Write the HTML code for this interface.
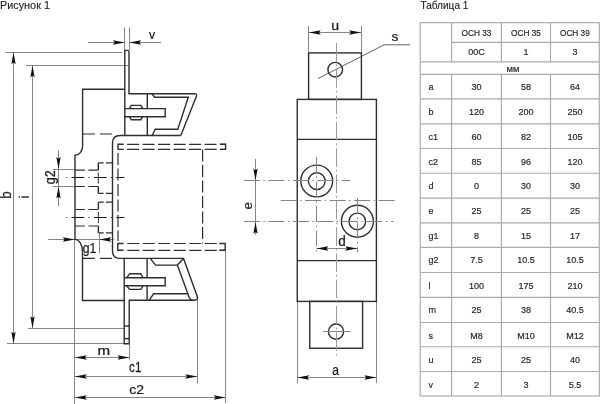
<!DOCTYPE html>
<html><head><meta charset="utf-8"><style>
html,body{margin:0;padding:0;background:#fff;width:600px;height:404px;overflow:hidden}
svg{display:block;will-change:transform;font-family:"Liberation Sans",sans-serif;fill:#222}
</style></head><body>
<svg width="600" height="404" viewBox="0 0 600 404">
<g id="draw">
<line x1="124.5" y1="27.4" x2="124.5" y2="50" stroke="#858585" stroke-width="1" fill="none"/>
<line x1="129.5" y1="27.4" x2="129.5" y2="50" stroke="#858585" stroke-width="1" fill="none"/>
<line x1="88.2" y1="42.5" x2="124.9" y2="42.5" stroke="#858585" stroke-width="1" fill="none"/>
<line x1="129.2" y1="42.5" x2="161" y2="42.5" stroke="#858585" stroke-width="1" fill="none"/>
<path d="M124.90,42.50 L112.90,44.65 L114.70,42.50 L112.90,40.35Z" fill="#111"/>
<path d="M129.20,42.50 L141.20,40.35 L139.40,42.50 L141.20,44.65Z" fill="#111"/>
<line x1="5.5" y1="52.5" x2="122.4" y2="52.5" stroke="#858585" stroke-width="1" fill="none"/>
<line x1="7" y1="343.5" x2="124.2" y2="343.5" stroke="#858585" stroke-width="1" fill="none"/>
<line x1="13.5" y1="52.3" x2="13.5" y2="343.8" stroke="#858585" stroke-width="1" fill="none"/>
<path d="M13.50,52.30 L15.65,64.30 L13.50,62.50 L11.35,64.30Z" fill="#111"/>
<path d="M13.50,343.80 L11.35,331.80 L13.50,333.60 L15.65,331.80Z" fill="#111"/>
<line x1="26" y1="65.5" x2="128.8" y2="65.5" stroke="#858585" stroke-width="1" fill="none"/>
<line x1="27.9" y1="328.5" x2="124.2" y2="328.5" stroke="#858585" stroke-width="1" fill="none"/>
<line x1="32.5" y1="65.4" x2="32.5" y2="328.2" stroke="#858585" stroke-width="1" fill="none"/>
<path d="M32.50,65.40 L34.65,77.40 L32.50,75.60 L30.35,77.40Z" fill="#111"/>
<path d="M32.50,328.20 L30.35,316.20 L32.50,318.00 L34.65,316.20Z" fill="#111"/>
<line x1="58.5" y1="150.2" x2="58.5" y2="206" stroke="#858585" stroke-width="1" fill="none"/>
<path d="M58.50,169.00 L56.35,157.00 L58.50,158.80 L60.65,157.00Z" fill="#111"/>
<path d="M58.50,186.50 L60.65,198.50 L58.50,196.70 L56.35,198.50Z" fill="#111"/>
<line x1="52.8" y1="169.5" x2="75" y2="169.5" stroke="#858585" stroke-width="1" fill="none"/>
<line x1="52.8" y1="186.5" x2="75" y2="186.5" stroke="#858585" stroke-width="1" fill="none"/>
<line x1="48.2" y1="239.5" x2="114.2" y2="239.5" stroke="#858585" stroke-width="1" fill="none"/>
<path d="M74.80,239.50 L62.80,241.65 L64.60,239.50 L62.80,237.35Z" fill="#111"/>
<path d="M99.20,239.50 L111.20,237.35 L109.40,239.50 L111.20,241.65Z" fill="#111"/>
<line x1="99.5" y1="233" x2="99.5" y2="253.2" stroke="#858585" stroke-width="1" fill="none"/>
<line x1="74.5" y1="239.5" x2="74.5" y2="404" stroke="#858585" stroke-width="1" fill="none"/>
<line x1="129.5" y1="344" x2="129.5" y2="360.2" stroke="#858585" stroke-width="1" fill="none"/>
<line x1="197.5" y1="300" x2="197.5" y2="383.4" stroke="#858585" stroke-width="1" fill="none"/>
<line x1="225.5" y1="250" x2="225.5" y2="403" stroke="#858585" stroke-width="1" fill="none"/>
<line x1="74.8" y1="357.5" x2="129.5" y2="357.5" stroke="#858585" stroke-width="1" fill="none"/>
<path d="M74.80,357.50 L86.80,355.35 L85.00,357.50 L86.80,359.65Z" fill="#111"/>
<path d="M129.50,357.50 L117.50,359.65 L119.30,357.50 L117.50,355.35Z" fill="#111"/>
<line x1="74.8" y1="376.5" x2="197.3" y2="376.5" stroke="#858585" stroke-width="1" fill="none"/>
<path d="M74.80,376.50 L86.80,374.35 L85.00,376.50 L86.80,378.65Z" fill="#111"/>
<path d="M197.30,376.50 L185.30,378.65 L187.10,376.50 L185.30,374.35Z" fill="#111"/>
<line x1="74.8" y1="397.5" x2="225.8" y2="397.5" stroke="#858585" stroke-width="1" fill="none"/>
<path d="M74.80,397.50 L86.80,395.35 L85.00,397.50 L86.80,399.65Z" fill="#111"/>
<path d="M225.80,397.50 L213.80,399.65 L215.60,397.50 L213.80,395.35Z" fill="#111"/>
<line x1="66.3" y1="177.5" x2="124.5" y2="177.5" stroke="#1a1a1a" stroke-width="1" fill="none" stroke-dasharray="1 4.4 12.6 4.4"/>
<line x1="66.3" y1="217.5" x2="124.5" y2="217.5" stroke="#1a1a1a" stroke-width="1" fill="none" stroke-dasharray="1 4.4 12.6 4.4"/>
<path d="M124.8,135.5 V50.4 H127.5 Q129,50.4 129,52 V93.8 H194.4 Q197,93.8 196.5,96 L180.8,135.6" stroke="#2e2e2e" stroke-width="1.4" fill="none"/>
<path d="M180.8,135.5 H120 Q112.5,135.5 112.5,143 V251 Q112.5,258.4 120,258.4 H183.5 L197.1,296 Q198.4,300.2 194.5,300.2 H129.2 V343.8 H124.2 V258.4" stroke="#2e2e2e" stroke-width="1.4" fill="none"/>
<line x1="124.2" y1="326" x2="129.2" y2="326" stroke="#2e2e2e" stroke-width="1.4" fill="none"/>
<line x1="124.2" y1="338.6" x2="129.2" y2="338.6" stroke="#2e2e2e" stroke-width="1.4" fill="none"/>
<line x1="147.3" y1="93.8" x2="147.3" y2="108.6" stroke="#2e2e2e" stroke-width="1.4" fill="none"/>
<line x1="147.3" y1="116.7" x2="147.3" y2="135.5" stroke="#2e2e2e" stroke-width="1.4" fill="none"/>
<line x1="147.1" y1="258.4" x2="147.1" y2="277.8" stroke="#2e2e2e" stroke-width="1.4" fill="none"/>
<line x1="147.1" y1="285.8" x2="147.1" y2="300.2" stroke="#2e2e2e" stroke-width="1.4" fill="none"/>
<polyline points="152,93.8 154.7,97.2 188.3,97.2 177.8,129.2 155.2,129.2 152.2,135.5" stroke="#2e2e2e" stroke-width="1.4" fill="none"/>
<polyline points="150.2,258.4 155.6,265.1 177.4,265.1 183.5,258.6" stroke="#2e2e2e" stroke-width="1.4" fill="none"/>
<path d="M177.4,265.1 L189.2,297.6 Q190.3,300.2 193,300.2" stroke="#2e2e2e" stroke-width="1.4" fill="none"/>
<polyline points="187.7,293.8 153.6,293.8 149.3,300.2" stroke="#2e2e2e" stroke-width="1.4" fill="none"/>
<polyline points="124.8,108.6 165.2,108.6 165.2,116.7 124.8,116.7" stroke="#2e2e2e" stroke-width="1.4" fill="none"/>
<polyline points="129.4,108.6 131.2,105.4 140.9,105.4 142.7,108.6" stroke="#2e2e2e" stroke-width="1.4" fill="none"/>
<polyline points="129.4,116.7 131.2,119.8 140.9,119.8 142.7,116.7" stroke="#2e2e2e" stroke-width="1.4" fill="none"/>
<polyline points="124.2,277.8 165.2,277.8 165.2,285.8 124.2,285.8" stroke="#2e2e2e" stroke-width="1.4" fill="none"/>
<polyline points="126.7,277.8 129.7,273.7 140.7,273.7 143.1,277.8" stroke="#2e2e2e" stroke-width="1.4" fill="none"/>
<polyline points="126.7,285.8 129.6,289.4 140.9,289.4 143.1,285.8" stroke="#2e2e2e" stroke-width="1.4" fill="none"/>
<path d="M124.8,89.2 H82.6 V146 A7.6,9.3 0 0 1 75,155.3 V239.4 A7.5,12 0 0 1 82.5,251.4 V300.5 H124.2" stroke="#2e2e2e" stroke-width="1.4" fill="none"/>
<line x1="82.6" y1="134" x2="112" y2="134" stroke="#2e2e2e" stroke-width="1.2" fill="none" stroke-dasharray="12.4 5"/>
<line x1="82.5" y1="258.3" x2="112" y2="258.3" stroke="#2e2e2e" stroke-width="1.2" fill="none" stroke-dasharray="12.4 5"/>
<path d="M123.8,144.3 H118 V149.4 H123.8" stroke="#2e2e2e" stroke-width="1.4" fill="none"/>
<line x1="127.1" y1="144.3" x2="225.5" y2="144.3" stroke="#2e2e2e" stroke-width="1.2" fill="none" stroke-dasharray="12 3.5"/>
<line x1="127.1" y1="149.4" x2="225.5" y2="149.4" stroke="#2e2e2e" stroke-width="1.2" fill="none" stroke-dasharray="12 3.5"/>
<path d="M219.8,144.3 H225.6 V149.4 H219.8" stroke="#2e2e2e" stroke-width="1.4" fill="none"/>
<line x1="118" y1="153.1" x2="118" y2="240.9" stroke="#2e2e2e" stroke-width="1.2" fill="none" stroke-dasharray="12 3.5"/>
<path d="M123.6,243.5 H117.8 V250.3 H123.6" stroke="#2e2e2e" stroke-width="1.4" fill="none"/>
<line x1="127.3" y1="243.5" x2="225" y2="243.5" stroke="#2e2e2e" stroke-width="1.2" fill="none" stroke-dasharray="12 3.5"/>
<line x1="127.3" y1="250.3" x2="225" y2="250.3" stroke="#2e2e2e" stroke-width="1.2" fill="none" stroke-dasharray="12 3.5"/>
<path d="M219.3,243.5 H225.2 V250.3 H219.3" stroke="#2e2e2e" stroke-width="1.4" fill="none"/>
<line x1="202.6" y1="149.4" x2="202.6" y2="243.5" stroke="#2e2e2e" stroke-width="1.2" fill="none" stroke-dasharray="12 3.5"/>
<line x1="98.3" y1="162.9" x2="112.5" y2="162.9" stroke="#2e2e2e" stroke-width="1.2" fill="none" stroke-dasharray="5.3 2.2 20"/>
<line x1="98.3" y1="162.9" x2="98.3" y2="170.2" stroke="#2e2e2e" stroke-width="1.4" fill="none"/>
<line x1="75" y1="170.2" x2="98.3" y2="170.2" stroke="#2e2e2e" stroke-width="1.2" fill="none" stroke-dasharray="9.8 3.6 20"/>
<line x1="75" y1="186.5" x2="98.3" y2="186.5" stroke="#2e2e2e" stroke-width="1.2" fill="none" stroke-dasharray="9.8 3.6 20"/>
<line x1="98.3" y1="186.5" x2="98.3" y2="193.3" stroke="#2e2e2e" stroke-width="1.4" fill="none"/>
<line x1="98.3" y1="193.3" x2="112.5" y2="193.3" stroke="#2e2e2e" stroke-width="1.2" fill="none" stroke-dasharray="5.3 2.2 20"/>
<line x1="98.3" y1="172.5" x2="98.3" y2="183.6" stroke="#2e2e2e" stroke-width="1" fill="none"/>
<line x1="116.3" y1="177.5" x2="120.3" y2="177.5" stroke="#2e2e2e" stroke-width="1" fill="none"/>
<line x1="98.4" y1="202.2" x2="112.5" y2="202.2" stroke="#2e2e2e" stroke-width="1.2" fill="none" stroke-dasharray="5.3 2.2 20"/>
<line x1="98.4" y1="202.2" x2="98.4" y2="209.5" stroke="#2e2e2e" stroke-width="1.4" fill="none"/>
<line x1="75" y1="209.5" x2="98.4" y2="209.5" stroke="#2e2e2e" stroke-width="1.2" fill="none" stroke-dasharray="9.8 3.6 20"/>
<line x1="75" y1="226" x2="98.4" y2="226" stroke="#2e2e2e" stroke-width="1.2" fill="none" stroke-dasharray="9.8 3.6 20"/>
<line x1="98.4" y1="226" x2="98.4" y2="232.9" stroke="#2e2e2e" stroke-width="1.4" fill="none"/>
<line x1="98.4" y1="232.9" x2="112.5" y2="232.9" stroke="#2e2e2e" stroke-width="1.2" fill="none" stroke-dasharray="5.3 2.2 20"/>
<line x1="98.4" y1="211.8" x2="98.4" y2="223.1" stroke="#2e2e2e" stroke-width="1" fill="none"/>
<line x1="116.3" y1="217.6" x2="120.3" y2="217.6" stroke="#2e2e2e" stroke-width="1" fill="none"/>
<rect x="308.6" y="52.9" width="52.8" height="46.5" stroke="#2e2e2e" stroke-width="1.4" fill="none"/>
<rect x="297.25" y="99.4" width="79.15" height="202" stroke="#2e2e2e" stroke-width="1.4" fill="none"/>
<line x1="297.25" y1="139.4" x2="376.4" y2="139.4" stroke="#2e2e2e" stroke-width="1.4" fill="none"/>
<line x1="297.25" y1="260.6" x2="376.4" y2="260.6" stroke="#2e2e2e" stroke-width="1.4" fill="none"/>
<rect x="309.75" y="301.4" width="52.85" height="46.85" stroke="#2e2e2e" stroke-width="1.4" fill="none"/>
<circle cx="335.2" cy="69.7" r="7.3" stroke="#2e2e2e" stroke-width="1.4" fill="none"/>
<circle cx="336" cy="331.6" r="7.6" stroke="#2e2e2e" stroke-width="1.4" fill="none"/>
<circle cx="316.7" cy="181" r="15.9" stroke="#2e2e2e" stroke-width="1.4" fill="none"/>
<circle cx="316.8" cy="181.1" r="8.4" stroke="#2e2e2e" stroke-width="1.4" fill="none"/>
<circle cx="357.4" cy="221.3" r="16" stroke="#2e2e2e" stroke-width="1.4" fill="none"/>
<circle cx="357.3" cy="221.4" r="8.3" stroke="#2e2e2e" stroke-width="1.4" fill="none"/>
<line x1="336.5" y1="43" x2="336.5" y2="358" stroke="#9a9a9a" stroke-width="1" fill="none" stroke-dasharray="18.5 3 1.8 3"/>
<line x1="243.9" y1="180.5" x2="350" y2="180.5" stroke="#858585" stroke-width="1" fill="none" stroke-dasharray="16 3.5 1.5 3.5"/>
<line x1="280.7" y1="200.5" x2="394.6" y2="200.5" stroke="#858585" stroke-width="1" fill="none" stroke-dasharray="16 3.5 1.5 3.5"/>
<line x1="243.9" y1="221.5" x2="393.5" y2="221.5" stroke="#858585" stroke-width="1" fill="none" stroke-dasharray="16 3.5 1.5 3.5"/>
<line x1="316.5" y1="157" x2="316.5" y2="252.3" stroke="#858585" stroke-width="1" fill="none" stroke-dasharray="16 3.5 1.5 3.5"/>
<line x1="357.5" y1="198" x2="357.5" y2="252.3" stroke="#858585" stroke-width="1" fill="none" stroke-dasharray="16 3.5 1.5 3.5"/>
<line x1="323" y1="331.5" x2="350.4" y2="331.5" stroke="#858585" stroke-width="1" fill="none"/>
<line x1="308.5" y1="25.8" x2="308.5" y2="52" stroke="#858585" stroke-width="1" fill="none"/>
<line x1="361.5" y1="25.8" x2="361.5" y2="52" stroke="#858585" stroke-width="1" fill="none"/>
<line x1="308.8" y1="32.5" x2="361.1" y2="32.5" stroke="#858585" stroke-width="1" fill="none"/>
<path d="M308.80,32.50 L320.80,30.35 L319.00,32.50 L320.80,34.65Z" fill="#111"/>
<path d="M361.10,32.50 L349.10,34.65 L350.90,32.50 L349.10,30.35Z" fill="#111"/>
<polyline points="318,78.6 384.2,44.8 410.2,44.8" stroke="#505050" stroke-width="0.9" fill="none"/>
<line x1="255.5" y1="158.9" x2="255.5" y2="234.7" stroke="#858585" stroke-width="1" fill="none"/>
<path d="M255.50,180.50 L253.35,168.50 L255.50,170.30 L257.65,168.50Z" fill="#111"/>
<path d="M255.50,221.70 L257.65,233.70 L255.50,231.90 L253.35,233.70Z" fill="#111"/>
<line x1="316.4" y1="248.5" x2="357.3" y2="248.5" stroke="#858585" stroke-width="1" fill="none"/>
<path d="M316.40,248.50 L328.40,246.35 L326.60,248.50 L328.40,250.65Z" fill="#111"/>
<path d="M357.30,248.50 L345.30,250.65 L347.10,248.50 L345.30,246.35Z" fill="#111"/>
<line x1="297.5" y1="302" x2="297.5" y2="383" stroke="#858585" stroke-width="1" fill="none"/>
<line x1="376.5" y1="302" x2="376.5" y2="383" stroke="#858585" stroke-width="1" fill="none"/>
<line x1="297.2" y1="377.5" x2="376.4" y2="377.5" stroke="#858585" stroke-width="1" fill="none"/>
<path d="M297.20,377.50 L309.20,375.35 L307.40,377.50 L309.20,379.65Z" fill="#111"/>
<path d="M376.40,377.50 L364.40,379.65 L366.20,377.50 L364.40,375.35Z" fill="#111"/>
</g>
<g id="table" fill="#2a2a2a" stroke="#2a2a2a" stroke-width="0.2">
<rect x="420.2" y="22.7" width="179.1" height="373.3" stroke="#aaaaaa" stroke-width="1.15" fill="none"/>
<line x1="451.6" y1="42.3" x2="599.3" y2="42.3" stroke="#aaaaaa" stroke-width="1.15" fill="none"/>
<line x1="420.2" y1="61.8" x2="599.3" y2="61.8" stroke="#aaaaaa" stroke-width="1.15" fill="none"/>
<line x1="420.2" y1="74.4" x2="599.3" y2="74.4" stroke="#aaaaaa" stroke-width="1.15" fill="none"/>
<line x1="420.2" y1="98.9" x2="599.3" y2="98.9" stroke="#aaaaaa" stroke-width="1.15" fill="none"/>
<line x1="420.2" y1="123.9" x2="599.3" y2="123.9" stroke="#aaaaaa" stroke-width="1.15" fill="none"/>
<line x1="420.2" y1="148.5" x2="599.3" y2="148.5" stroke="#aaaaaa" stroke-width="1.15" fill="none"/>
<line x1="420.2" y1="173.2" x2="599.3" y2="173.2" stroke="#aaaaaa" stroke-width="1.15" fill="none"/>
<line x1="420.2" y1="198.1" x2="599.3" y2="198.1" stroke="#aaaaaa" stroke-width="1.15" fill="none"/>
<line x1="420.2" y1="222.8" x2="599.3" y2="222.8" stroke="#aaaaaa" stroke-width="1.15" fill="none"/>
<line x1="420.2" y1="247.3" x2="599.3" y2="247.3" stroke="#aaaaaa" stroke-width="1.15" fill="none"/>
<line x1="420.2" y1="272.5" x2="599.3" y2="272.5" stroke="#aaaaaa" stroke-width="1.15" fill="none"/>
<line x1="420.2" y1="297.3" x2="599.3" y2="297.3" stroke="#aaaaaa" stroke-width="1.15" fill="none"/>
<line x1="420.2" y1="322.5" x2="599.3" y2="322.5" stroke="#aaaaaa" stroke-width="1.15" fill="none"/>
<line x1="420.2" y1="346.7" x2="599.3" y2="346.7" stroke="#aaaaaa" stroke-width="1.15" fill="none"/>
<line x1="420.2" y1="371.5" x2="599.3" y2="371.5" stroke="#aaaaaa" stroke-width="1.15" fill="none"/>
<line x1="451.6" y1="22.7" x2="451.6" y2="61.8" stroke="#aaaaaa" stroke-width="1.15" fill="none"/>
<line x1="451.6" y1="74.4" x2="451.6" y2="396.0" stroke="#aaaaaa" stroke-width="1.15" fill="none"/>
<line x1="501.4" y1="22.7" x2="501.4" y2="61.8" stroke="#aaaaaa" stroke-width="1.15" fill="none"/>
<line x1="501.4" y1="74.4" x2="501.4" y2="396.0" stroke="#aaaaaa" stroke-width="1.15" fill="none"/>
<line x1="550.5" y1="22.7" x2="550.5" y2="61.8" stroke="#aaaaaa" stroke-width="1.15" fill="none"/>
<line x1="550.5" y1="74.4" x2="550.5" y2="396.0" stroke="#aaaaaa" stroke-width="1.15" fill="none"/>
<text x="476.5" y="35.9" font-size="9.0" text-anchor="middle" textLength="29.8" lengthAdjust="spacingAndGlyphs">OCH 33</text>
<text x="476.5" y="55.3" font-size="9.0" text-anchor="middle" >00C</text>
<text x="525.95" y="35.9" font-size="9.0" text-anchor="middle" textLength="29.8" lengthAdjust="spacingAndGlyphs">OCH 35</text>
<text x="525.95" y="55.3" font-size="9.0" text-anchor="middle" >1</text>
<text x="574.9" y="35.9" font-size="9.0" text-anchor="middle" textLength="29.8" lengthAdjust="spacingAndGlyphs">OCH 39</text>
<text x="574.9" y="55.3" font-size="9.0" text-anchor="middle" >3</text>
<text x="512.9" y="71.6" font-size="9.0" text-anchor="middle" textLength="13" lengthAdjust="spacingAndGlyphs">мм</text>
<text x="428.5" y="90.4" font-size="9.0" text-anchor="start" >a</text>
<text x="476.5" y="90.4" font-size="9.0" text-anchor="middle" >30</text>
<text x="525.95" y="90.4" font-size="9.0" text-anchor="middle" >58</text>
<text x="574.9" y="90.4" font-size="9.0" text-anchor="middle" >64</text>
<text x="428.5" y="114.9" font-size="9.0" text-anchor="start" >b</text>
<text x="476.5" y="114.9" font-size="9.0" text-anchor="middle" >120</text>
<text x="525.95" y="114.9" font-size="9.0" text-anchor="middle" >200</text>
<text x="574.9" y="114.9" font-size="9.0" text-anchor="middle" >250</text>
<text x="428.5" y="139.9" font-size="9.0" text-anchor="start" >c1</text>
<text x="476.5" y="139.9" font-size="9.0" text-anchor="middle" >60</text>
<text x="525.95" y="139.9" font-size="9.0" text-anchor="middle" >82</text>
<text x="574.9" y="139.9" font-size="9.0" text-anchor="middle" >105</text>
<text x="428.5" y="164.5" font-size="9.0" text-anchor="start" >c2</text>
<text x="476.5" y="164.5" font-size="9.0" text-anchor="middle" >85</text>
<text x="525.95" y="164.5" font-size="9.0" text-anchor="middle" >96</text>
<text x="574.9" y="164.5" font-size="9.0" text-anchor="middle" >120</text>
<text x="428.5" y="189.2" font-size="9.0" text-anchor="start" >d</text>
<text x="476.5" y="189.2" font-size="9.0" text-anchor="middle" >0</text>
<text x="525.95" y="189.2" font-size="9.0" text-anchor="middle" >30</text>
<text x="574.9" y="189.2" font-size="9.0" text-anchor="middle" >30</text>
<text x="428.5" y="214.1" font-size="9.0" text-anchor="start" >e</text>
<text x="476.5" y="214.1" font-size="9.0" text-anchor="middle" >25</text>
<text x="525.95" y="214.1" font-size="9.0" text-anchor="middle" >25</text>
<text x="574.9" y="214.1" font-size="9.0" text-anchor="middle" >25</text>
<text x="428.5" y="238.8" font-size="9.0" text-anchor="start" >g1</text>
<text x="476.5" y="238.8" font-size="9.0" text-anchor="middle" >8</text>
<text x="525.95" y="238.8" font-size="9.0" text-anchor="middle" >15</text>
<text x="574.9" y="238.8" font-size="9.0" text-anchor="middle" >17</text>
<text x="428.5" y="263.3" font-size="9.0" text-anchor="start" >g2</text>
<text x="476.5" y="263.3" font-size="9.0" text-anchor="middle" >7.5</text>
<text x="525.95" y="263.3" font-size="9.0" text-anchor="middle" >10.5</text>
<text x="574.9" y="263.3" font-size="9.0" text-anchor="middle" >10.5</text>
<text x="428.5" y="288.5" font-size="9.0" text-anchor="start" >l</text>
<text x="476.5" y="288.5" font-size="9.0" text-anchor="middle" >100</text>
<text x="525.95" y="288.5" font-size="9.0" text-anchor="middle" >175</text>
<text x="574.9" y="288.5" font-size="9.0" text-anchor="middle" >210</text>
<text x="428.5" y="313.3" font-size="9.0" text-anchor="start" >m</text>
<text x="476.5" y="313.3" font-size="9.0" text-anchor="middle" >25</text>
<text x="525.95" y="313.3" font-size="9.0" text-anchor="middle" >38</text>
<text x="574.9" y="313.3" font-size="9.0" text-anchor="middle" >40.5</text>
<text x="428.5" y="338.5" font-size="9.0" text-anchor="start" >s</text>
<text x="476.5" y="338.5" font-size="9.0" text-anchor="middle" >M8</text>
<text x="525.95" y="338.5" font-size="9.0" text-anchor="middle" >M10</text>
<text x="574.9" y="338.5" font-size="9.0" text-anchor="middle" >M12</text>
<text x="428.5" y="362.7" font-size="9.0" text-anchor="start" >u</text>
<text x="476.5" y="362.7" font-size="9.0" text-anchor="middle" >25</text>
<text x="525.95" y="362.7" font-size="9.0" text-anchor="middle" >25</text>
<text x="574.9" y="362.7" font-size="9.0" text-anchor="middle" >40</text>
<text x="428.5" y="387.5" font-size="9.0" text-anchor="start" >v</text>
<text x="476.5" y="387.5" font-size="9.0" text-anchor="middle" >2</text>
<text x="525.95" y="387.5" font-size="9.0" text-anchor="middle" >3</text>
<text x="574.9" y="387.5" font-size="9.0" text-anchor="middle" >5.5</text>
</g>
<g id="labels" fill="#1a1a1a" stroke="#1a1a1a" stroke-width="0.25">
<text transform="translate(-0.09,8.90) scale(1.055,1)" font-size="10.32" stroke-width="0.1">Рисунок 1</text>
<text transform="translate(420.47,9.20) scale(0.965,1)" font-size="10.47" stroke-width="0.1">Таблица 1</text>
<text transform="translate(149.06,38.90) scale(0.932,1)" font-size="13.06">v</text>
<text transform="translate(97.40,354.80) scale(1.197,1)" font-size="12.64">m</text>
<text transform="translate(129.00,371.56) scale(0.833,1)" font-size="14.19">c1</text>
<text transform="translate(129.30,393.57) scale(1.023,1)" font-size="13.70">c2</text>
<text transform="translate(82.69,252.66) scale(0.837,1)" font-size="14.63">g1</text>
<text transform="translate(331.18,29.57) scale(1.070,1)" font-size="13.19">u</text>
<text transform="translate(391.52,40.77) scale(1.059,1)" font-size="12.99">s</text>
<text transform="translate(338.23,245.96) scale(0.967,1)" font-size="14.03">d</text>
<text transform="translate(332.19,374.76) scale(0.848,1)" font-size="14.24">a</text>
<text transform="translate(10.76,198.86) rotate(-90) scale(0.961,1)" font-size="13.89">b</text>
<path d="M18.6,196.95 H19.9 M21.4,196.95 H28.9" stroke="#333" stroke-width="1.35" fill="none"/>
<text transform="translate(54.75,184.33) rotate(-90) scale(0.855,1)" font-size="14.68">g2</text>
<text transform="translate(252.47,209.46) rotate(-90) scale(0.978,1)" font-size="13.51">e</text>
</g>
</svg>
</body></html>
